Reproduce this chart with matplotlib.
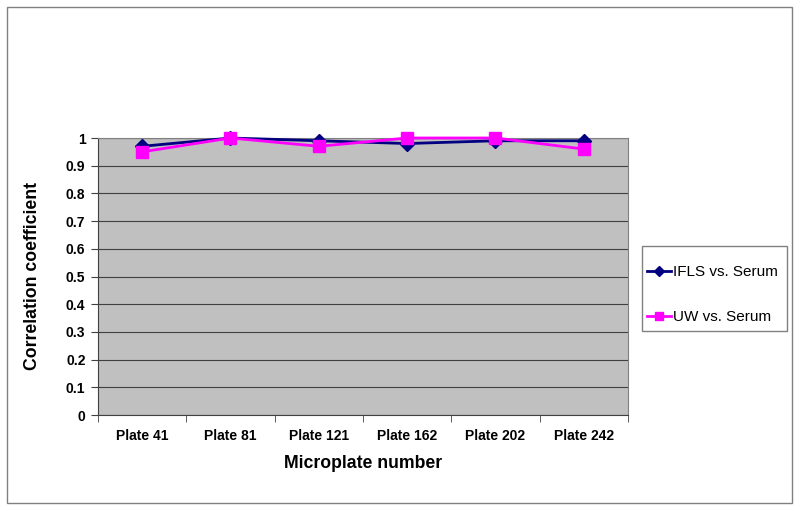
import matplotlib
matplotlib.use("Agg")
import matplotlib.pyplot as plt
from matplotlib.patches import Rectangle

plt.rcParams['font.family'] = ['Liberation Sans', 'DejaVu Sans']

plates = ["Plate 41", "Plate 81", "Plate 121", "Plate 162", "Plate 202", "Plate 242"]
ifls = [0.97, 1.0, 0.99, 0.98, 0.99, 0.99]
uw = [0.95, 1.0, 0.97, 1.0, 1.0, 0.96]

fig = plt.figure(figsize=(8, 5.11), dpi=100)
# outer chart border
fig.patches.append(Rectangle((7/800, 1 - 503/511), 785/800, 496/511, transform=fig.transFigure,
                             fill=False, edgecolor='#808080', linewidth=1))
# legend box, drawn by hand so the padding matches
fig.patches.append(Rectangle((642/800, 1 - 331/511), 145/800, 85/511, transform=fig.transFigure,
                             fill=False, edgecolor='#808080', linewidth=1))

ax = fig.add_axes([98/800, 1 - 415/511, 530/800, 277/511])
ax.set_facecolor('#C0C0C0')
x = list(range(len(plates)))

ax.plot(x, ifls, color='#000080', marker='D', markersize=7, linewidth=2,
        label='IFLS vs. Serum', zorder=3, clip_on=False)
ax.plot(x, uw, color='#FF00FF', marker='s', markersize=8, linewidth=2,
        label='UW vs. Serum', zorder=4, clip_on=False)

ax.set_xlim(-0.5, len(plates) - 0.5)
ax.set_ylim(0, 1)
ax.set_yticks([i / 10 for i in range(11)])
ax.set_yticklabels(['0', '0.1', '0.2', '0.3', '0.4', '0.5', '0.6', '0.7', '0.8', '0.9', '1'],
                   fontsize=10, fontweight='bold')
ax.yaxis.grid(True, color='#404040', linewidth=0.8)
ax.set_axisbelow(True)

ax.set_xticks(x)
ax.set_xticklabels(plates, fontsize=10, fontweight='bold')
ax.tick_params(axis='x', length=0, pad=10)
ax.set_xticks([i + 0.5 for i in range(-1, len(plates))], minor=True)
ax.tick_params(axis='x', which='minor', length=5, direction='out', color='#404040')
ax.tick_params(axis='y', length=5, direction='out', color='#404040', pad=4)

for s in ['top', 'right']:
    ax.spines[s].set_color('#808080')
for s in ['left', 'bottom']:
    ax.spines[s].set_color('#404040')

ax.set_xlabel('Microplate number', fontsize=12.7, fontweight='bold', labelpad=9)
ax.set_ylabel('Correlation coefficient', fontsize=12.7, fontweight='bold', labelpad=18)

fig.legend(loc='upper left', bbox_to_anchor=(647/800, 1 - 265/511), fontsize=11,
           frameon=False, labelspacing=2.05, handlelength=1.6, borderpad=0,
           handletextpad=0.1, markerscale=0.8, borderaxespad=0)

fig.savefig('out.png', dpi=100)
